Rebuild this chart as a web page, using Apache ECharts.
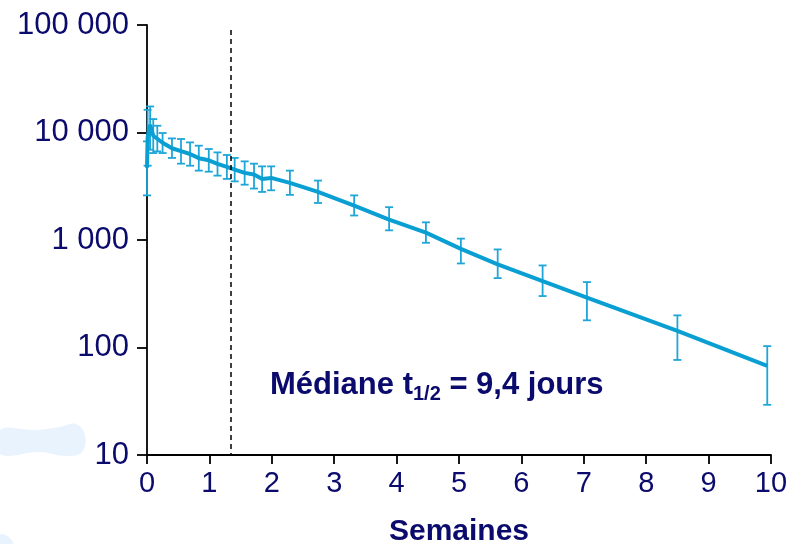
<!DOCTYPE html>
<html>
<head>
<meta charset="utf-8">
<script src="https://cdn.jsdelivr.net/npm/echarts@6/dist/echarts.min.js"></script>
<style>html,body{margin:0;padding:0;background:#fff;}#c{width:795px;height:544px;}</style>
</head>
<body>
<div id="c"></div>
<script>
// Time in weeks
var weeks = [0, 0.01, 0.05, 0.10, 0.165, 0.25, 0.40, 0.545, 0.69, 0.83, 0.99, 1.13, 1.28, 1.405, 1.565, 1.715, 1.845, 1.99, 2.29, 2.74, 3.32, 3.88, 4.47, 5.03, 5.62, 6.34, 7.05, 8.5, 9.94];
// Mean values
var meanValues = [4700, 9000, 11800, 9330, 8750, 8030, 7140, 6700, 6310, 5770, 5510, 5100, 4780, 4510, 4210, 4060, 3700, 3780, 3400, 2800, 2090, 1550, 1170, 828, 593, 415, 291, 143, 67.5];
// Lower error bound
var lowValues = [2600, 4910, 6920, 6440, 6670, 6440, 5800, 5130, 4910, 4420, 4320, 3970, 3700, 3510, 3270, 3010, 2800, 2900, 2630, 2210, 1690, 1230, 942, 605, 442, 301, 179, 76.6, 29.3];
// Upper error bound
var highValues = [8270, 16260, 17460, 13330, 11560, 9890, 8810, 8700, 8090, 7540, 7020, 6530, 6180, 5800, 5390, 5130, 4840, 4840, 4420, 3570, 2600, 2020, 1460, 1030, 817, 580, 406, 199, 103];
// Axis tick labels
var yTickLabels = {10: '10', 100: '100', 1000: '1 000', 10000: '10 000', 100000: '100 000'};
var xTicks = [0, 1, 2, 3, 4, 5, 6, 7, 8, 9, 10];
// Dashed reference line (weeks)
var refLineX = 1.346;
var refLineTop = 90000;

var navy = '#0b0b6e';
var blue = '#0a9fd3';

var lineData = weeks.map(function (w, i) { return [w, meanValues[i]]; });
var errData = weeks.map(function (w, i) { return [w, lowValues[i], highValues[i]]; });

var chart = echarts.init(document.getElementById('c'));
chart.setOption({
  backgroundColor: '#ffffff',
  animation: false,
  grid: {left: 147, right: 24, top: 25, bottom: 89, containLabel: false, outerBoundsMode: 'none'},
  graphic: [
    {type: 'polygon', z: -10, shape: {smooth: 0.4, points: [[0, 430], [35, 430], [60, 427], [76, 424], [85, 435], [82, 452], [66, 456], [40, 452], [0, 454]]}, style: {fill: '#e9f3fd'}},
    {type: 'circle', z: -10, shape: {cx: 0, cy: 548, r: 14}, style: {fill: '#e9f3fd'}},
    {type: 'text', left: 270, top: 366, z: 100,
      style: {
        rich: {
          a: {fontFamily: 'Liberation Sans, Arial, sans-serif', fontSize: 31, fontWeight: 'bold', fill: navy, lineHeight: 34},
          s: {fontFamily: 'Liberation Sans, Arial, sans-serif', fontSize: 20, fontWeight: 'bold', fill: navy, padding: [18, 0, 0, 0], lineHeight: 34}
        },
        text: '{a|Médiane t}{s|1/2}{a| = 9,4 jours}'
      }
    }
  ],
  xAxis: {
    type: 'value', min: 0, max: 10, interval: 1,
    name: 'Semaines', nameLocation: 'middle', nameGap: 62,
    nameTextStyle: {fontFamily: 'Liberation Sans, Arial, sans-serif', fontSize: 30, fontWeight: 'bold', color: navy},
    axisLine: {show: true, onZero: false, lineStyle: {color: '#000', width: 1.8}},
    axisTick: {show: true, length: 9, lineStyle: {color: '#000', width: 1.8}},
    axisLabel: {fontFamily: 'Liberation Sans, Arial, sans-serif', fontSize: 29, color: navy, margin: 14,
      formatter: function (v) { return xTicks.indexOf(v) >= 0 ? String(v) : ''; }},
    splitLine: {show: false}
  },
  yAxis: {
    type: 'log', logBase: 10, min: 10, max: 100000,
    axisLine: {show: true, lineStyle: {color: '#000', width: 1.8}},
    axisTick: {show: true, length: 10, lineStyle: {color: '#000', width: 1.8}},
    axisLabel: {fontFamily: 'Liberation Sans, Arial, sans-serif', fontSize: 31, color: navy, margin: 18,
      formatter: function (v) { return yTickLabels[Math.round(v)] || ''; }},
    splitLine: {show: false}
  },
  series: [
    {
      type: 'custom',
      data: errData,
      z: 3,
      renderItem: function (params, api) {
        var x = api.value(0);
        var lo = api.coord([x, api.value(1)]);
        var hi = api.coord([x, api.value(2)]);
        var hw = 4;
        var st = {stroke: '#1ea6d8', lineWidth: 1.8, fill: null};
        return {type: 'group', children: [
          {type: 'line', shape: {x1: lo[0], y1: lo[1], x2: hi[0], y2: hi[1]}, style: st},
          {type: 'line', shape: {x1: lo[0] - hw, y1: lo[1], x2: lo[0] + hw, y2: lo[1]}, style: st},
          {type: 'line', shape: {x1: hi[0] - hw, y1: hi[1], x2: hi[0] + hw, y2: hi[1]}, style: st}
        ]};
      }
    },
    {
      type: 'line',
      data: lineData,
      z: 4,
      symbol: 'none',
      lineStyle: {color: blue, width: 4},
      markLine: {
        silent: true, symbol: 'none', label: {show: false},
        lineStyle: {color: '#000', type: [5, 4], width: 1.5},
        data: [[{coord: [refLineX, refLineTop]}, {coord: [refLineX, 10]}]]
      }
    }
  ]
});
</script>
</body>
</html>
